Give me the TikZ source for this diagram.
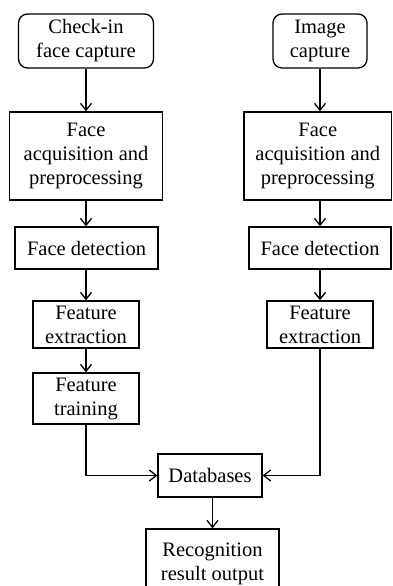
\documentclass[tikz,border=0pt]{standalone}
\usepackage{fontspec}
\setmainfont{Liberation Serif}
\usetikzlibrary{arrows.meta}
\begin{document}
\begin{tikzpicture}[x=1pt,y=-1pt,
  box/.style={draw, line width=1.3pt, inner sep=0pt, align=center,
    font=\fontsize{20.5}{24}\selectfont},
  rbox/.style={box, rounded corners=9pt},
  arr/.style={-{Straight Barb[length=7pt,width=11pt,line width=1.3pt]}, line width=1.3pt}]
\useasboundingbox (0,0) rectangle (392,586);
\clip (0,0) rectangle (392,586);
% left column
\node[rbox, minimum width=135pt, minimum height=54pt] (c1) at (86,41) {Check-in\\face capture};
\node[box, minimum width=153pt, minimum height=88pt] (a1) at (86,156) {Face\\acquisition and\\preprocessing};
\node[box, minimum width=143pt, minimum height=42pt] (d1) at (86.5,248) {Face detection};
\node[box, minimum width=106pt, minimum height=47pt] (f1) at (86,324.5) {Feature\\extraction};
\node[box, minimum width=106pt, minimum height=51pt] (t1) at (86,398.5) {Feature\\training};
% right column
\node[rbox, minimum width=94pt, minimum height=54pt] (i1) at (320,41) {Image\\capture};
\node[box, minimum width=147.5pt, minimum height=88pt] (a2) at (317.75,156) {Face\\acquisition and\\preprocessing};
\node[box, minimum width=142pt, minimum height=42pt] (d2) at (320,248) {Face detection};
\node[box, minimum width=106pt, minimum height=47pt] (f2) at (320,324.5) {Feature\\extraction};
% bottom
\node[box, minimum width=104pt, minimum height=43pt] (db) at (210,475.5) {Databases};
\node[box, minimum width=133pt, minimum height=70pt] (r) at (212.5,564) {Recognition\\result output};
% connectors
\draw[arr] (c1) -- (c1 |- a1.north);
\draw[arr] (a1.south -| c1) -- (c1 |- d1.north);
\draw[arr] (d1.south -| c1) -- (c1 |- f1.north);
\draw[arr] (f1) -- (t1);
\draw[arr] (t1.south) |- (db.west);
\draw[arr] (i1) -- (i1 |- a2.north);
\draw[arr] (a2.south -| i1) -- (d2.north);
\draw[arr] (d2) -- (f2);
\draw[arr] (f2.south) |- (db.east);
\draw[arr] (db.south -| r) -- (r.north);
\end{tikzpicture}
\end{document}
